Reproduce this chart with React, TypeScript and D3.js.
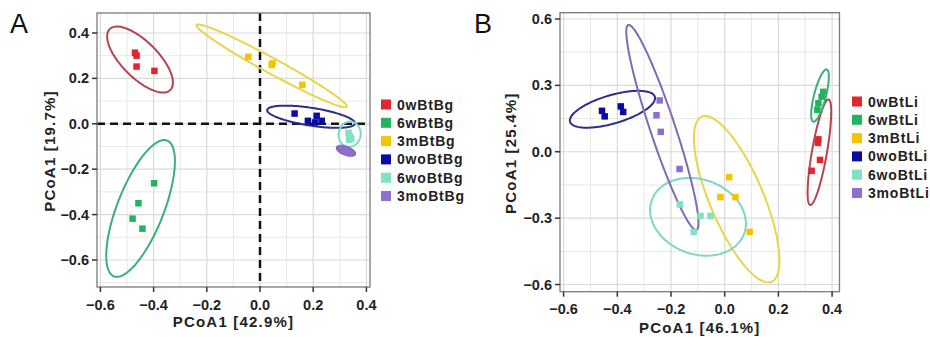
import React from "react";
import * as d3 from "d3";

// ---------- data ----------
const groupsA = ["0wBtBg", "6wBtBg", "3mBtBg", "0woBtBg", "6woBtBg", "3moBtBg"];
const groupsB = ["0wBtLi", "6wBtLi", "3mBtLi", "0woBtLi", "6woBtLi", "3moBtLi"];
const pointColors = ["#e3262e", "#20b45c", "#f5c400", "#0a0aa8", "#7de3c3", "#8e6fd1"];
const ellipseColors = ["#b8434f", "#3aae7c", "#ead44a", "#2d2d8c", "#7dd8c0", "#7d6cb5"];

// points per group: [x, y]
const pointsA: [number, number][][] = [
  [[-0.47, 0.313], [-0.464, 0.3], [-0.464, 0.252], [-0.397, 0.233]],
  [[-0.398, -0.262], [-0.457, -0.35], [-0.479, -0.418], [-0.442, -0.462]],
  [[-0.044, 0.295], [0.044, 0.259], [0.047, 0.266], [0.159, 0.171]],
  [[0.13, 0.045], [0.18, 0.013], [0.213, 0.035], [0.232, 0.013], [0.207, 0.006]],
  [[0.333, -0.04], [0.338, -0.055], [0.343, -0.065], [0.335, -0.07]],
  [[0.31, -0.11], [0.318, -0.115], [0.328, -0.123], [0.337, -0.128]],
];
const pointsB: [number, number][][] = [
  [[0.349, 0.056], [0.347, 0.04], [0.355, -0.037], [0.324, -0.086]],
  [[0.361, 0.249], [0.349, 0.219], [0.345, 0.19], [0.367, 0.271]],
  [[0.017, -0.115], [-0.016, -0.205], [0.04, -0.205], [0.093, -0.362]],
  [[-0.457, 0.185], [-0.447, 0.16], [-0.387, 0.205], [-0.378, 0.18]],
  [[-0.167, -0.238], [-0.115, -0.362], [-0.09, -0.29], [-0.053, -0.29]],
  [[-0.242, 0.232], [-0.254, 0.165], [-0.238, 0.09], [-0.168, -0.078]],
];

// confidence ellipses: [cx, cy, semi-major dx, semi-major dy, minor/major ratio]
const ellipsesA: [number, number, number, number, number][] = [
  [-0.451, 0.283, 0.114, -0.134, 0.42],
  [-0.449, -0.373, 0.1, 0.299, 0.32],
  [0.044, 0.255, 0.282, -0.18, 0.09],
  [0.192, 0.031, 0.165, -0.03, 0.2],
  [0.337, -0.046, 0.0075, 0.055, 0.87],
  [0.323, -0.119, 0.034, -0.015, 0.41],
];
const ellipsesB: [number, number, number, number, number][] = [
  [0.3528, -0.002, 0.0343, 0.2386, 0.14],
  [0.355, 0.254, 0.025, 0.118, 0.22],
  [0.0447, -0.2145, -0.13, 0.373, 0.3],
  [-0.418, 0.192, 0.158, 0.0565, 0.32],
  [-0.0994, -0.294, 0.172, -0.076, 0.76],
  [-0.232, 0.11, -0.127, 0.463, 0.116],
];
const filledA = [false, false, false, false, false, true];
const filledB = [false, false, false, false, false, false];

const xTicksA = [-0.6, -0.4, -0.2, 0.0, 0.2, 0.4];
const yTicksA = [-0.6, -0.4, -0.2, 0.0, 0.2, 0.4];
const xMinorA = [-0.5, -0.3, -0.1, 0.1, 0.3];
const yMinorA = [-0.7, -0.5, -0.3, -0.1, 0.1, 0.3];
const xTicksB = [-0.6, -0.4, -0.2, 0.0, 0.2, 0.4];
const yTicksB = [-0.6, -0.3, 0.0, 0.3, 0.6];
const xMinorB = [-0.5, -0.3, -0.1, 0.1, 0.3];
const yMinorB = [-0.45, -0.15, 0.15, 0.45];

const FONT = "'Liberation Sans', Arial, Helvetica, sans-serif";

type PanelProps = {
  letter: string;
  letterX: number;
  left: number; right: number; top: number; bottom: number;
  xDomain: [number, number]; yDomain: [number, number];
  xTicks: number[]; yTicks: number[]; xMinor: number[]; yMinor: number[];
  points: [number, number][][];
  ellipses: [number, number, number, number, number][];
  filled: boolean[];
  groups: string[];
  xTitle: string; yTitle: string;
  yTitleX: number; xTitleY: number; xLabelY: number;
  legendX: number; legendY: number;
  zeroLines: boolean;
};

function Panel(p: PanelProps) {
  const x = d3.scaleLinear().domain(p.xDomain).range([p.left, p.right]);
  const y = d3.scaleLinear().domain(p.yDomain).range([p.bottom, p.top]);
  const fmt = d3.format(".1f");
  const line = d3.line().curve(d3.curveLinearClosed);

  const ellipsePath = (e: [number, number, number, number, number]) => {
    const [cx, cy, ux, uy, r] = e;
    const C = [x(cx), y(cy)];
    const M = [x(cx + ux) - C[0], y(cy + uy) - C[1]];
    const P = [-M[1] * r, M[0] * r];
    const pts: [number, number][] = d3.range(0, 2 * Math.PI, Math.PI / 60).map((t) => [
      C[0] + Math.cos(t) * M[0] + Math.sin(t) * P[0],
      C[1] + Math.cos(t) * M[1] + Math.sin(t) * P[1],
    ]);
    return line(pts) || "";
  };

  const sq = 6.5;
  const ink = "#222";
  return (
    <g>
      <text x={p.letterX} y={33} fontFamily={FONT} fontSize={27} fill="#111">{p.letter}</text>
      <rect x={p.left} y={p.top} width={p.right - p.left} height={p.bottom - p.top} fill="#fff" />
      {p.xMinor.map((v) => (
        <line key={"xm" + v} x1={x(v)} x2={x(v)} y1={p.top} y2={p.bottom} stroke="#e8e8e8" strokeWidth={1} />
      ))}
      {p.yMinor.map((v) => (
        <line key={"ym" + v} x1={p.left} x2={p.right} y1={y(v)} y2={y(v)} stroke="#e8e8e8" strokeWidth={1} />
      ))}
      {p.xTicks.map((v) => (
        <line key={"xg" + v} x1={x(v)} x2={x(v)} y1={p.top} y2={p.bottom} stroke="#dadada" strokeWidth={1.2} />
      ))}
      {p.yTicks.map((v) => (
        <line key={"yg" + v} x1={p.left} x2={p.right} y1={y(v)} y2={y(v)} stroke="#dadada" strokeWidth={1.2} />
      ))}
      {p.zeroLines && (
        <g stroke="#111" strokeWidth={2.5} strokeDasharray="8,5">
          <line x1={x(0)} x2={x(0)} y1={p.top} y2={p.bottom} />
          <line x1={p.left} x2={p.right} y1={y(0)} y2={y(0)} />
        </g>
      )}
      {p.ellipses.map((e, i) => (
        <path
          key={"e" + i}
          d={ellipsePath(e)}
          fill={p.filled[i] ? pointColors[i] : "none"}
          stroke={ellipseColors[i]}
          strokeWidth={2}
        />
      ))}
      {p.points.map((g, i) =>
        g.map((pt, j) => (
          <rect
            key={"p" + i + "-" + j}
            x={x(pt[0]) - sq / 2}
            y={y(pt[1]) - sq / 2}
            width={sq}
            height={sq}
            fill={pointColors[i]}
          />
        ))
      )}
      <rect x={p.left} y={p.top} width={p.right - p.left} height={p.bottom - p.top} fill="none" stroke="#7a7a7a" strokeWidth={1.3} />
      {p.xTicks.map((v) => (
        <g key={"xt" + v}>
          <line x1={x(v)} x2={x(v)} y1={p.bottom} y2={p.bottom + 5} stroke="#333" strokeWidth={1.5} />
          <text x={x(v)} y={p.xLabelY} textAnchor="middle" fontFamily={FONT} fontWeight="bold" fontSize={14.5} fill={ink}>
            {fmt(v)}
          </text>
        </g>
      ))}
      {p.yTicks.map((v) => (
        <g key={"yt" + v}>
          <line x1={p.left - 5} x2={p.left} y1={y(v)} y2={y(v)} stroke="#333" strokeWidth={1.5} />
          <text x={p.left - 8} y={y(v) + 5} textAnchor="end" fontFamily={FONT} fontWeight="bold" fontSize={14.5} fill={ink}>
            {fmt(v)}
          </text>
        </g>
      ))}
      <text
        x={(p.left + p.right) / 2}
        y={p.xTitleY}
        textAnchor="middle"
        fontFamily={FONT}
        fontWeight="bold"
        fontSize={15}
        letterSpacing={1.2}
        fill={ink}
      >
        {p.xTitle}
      </text>
      <text
        transform={`translate(${p.yTitleX},${(p.top + p.bottom) / 2 + 1}) rotate(-90)`}
        textAnchor="middle"
        fontFamily={FONT}
        fontWeight="bold"
        fontSize={15}
        letterSpacing={1.2}
        fill={ink}
      >
        {p.yTitle}
      </text>
      {p.groups.map((g, i) => (
        <g key={"lg" + g}>
          <rect x={p.legendX} y={p.legendY + i * 18.3 - 5} width={10} height={10} fill={pointColors[i]} />
          <text
            x={p.legendX + 16}
            y={p.legendY + i * 18.3 + 5}
            fontFamily={FONT}
            fontWeight="bold"
            fontSize={14}
            letterSpacing={0.8}
            fill={ink}
          >
            {g}
          </text>
        </g>
      ))}
    </g>
  );
}

export default function App() {
  return (
    <svg
      width={930}
      height={337}
      style={{ position: "absolute", left: 0, top: 0, display: "block", background: "#fff" }}
    >
      <rect width={930} height={337} fill="#fff" />
      <Panel
        letter="A"
        letterX={10}
        left={97}
        right={370}
        top={13}
        bottom={287}
        xDomain={[-0.6128, 0.4135]}
        yDomain={[-0.719, 0.488]}
        xTicks={xTicksA}
        yTicks={yTicksA}
        xMinor={xMinorA}
        yMinor={yMinorA}
        points={pointsA}
        ellipses={ellipsesA}
        filled={filledA}
        groups={groupsA}
        xTitle="PCoA1 [42.9%]"
        yTitle="PCoA1 [19.7%]"
        yTitleX={55}
        xTitleY={327}
        xLabelY={310}
        legendX={381}
        legendY={104.5}
        zeroLines={true}
      />
      <Panel
        letter="B"
        letterX={474}
        left={560}
        right={839.5}
        top={12.7}
        bottom={291.7}
        xDomain={[-0.6134, 0.4276]}
        yDomain={[-0.6325, 0.6285]}
        xTicks={xTicksB}
        yTicks={yTicksB}
        xMinor={xMinorB}
        yMinor={yMinorB}
        points={pointsB}
        ellipses={ellipsesB}
        filled={filledB}
        groups={groupsB}
        xTitle="PCoA1 [46.1%]"
        yTitle="PCoA1 [25.4%]"
        yTitleX={516}
        xTitleY={333}
        xLabelY={314}
        legendX={852}
        legendY={101.5}
        zeroLines={false}
      />
    </svg>
  );
}
